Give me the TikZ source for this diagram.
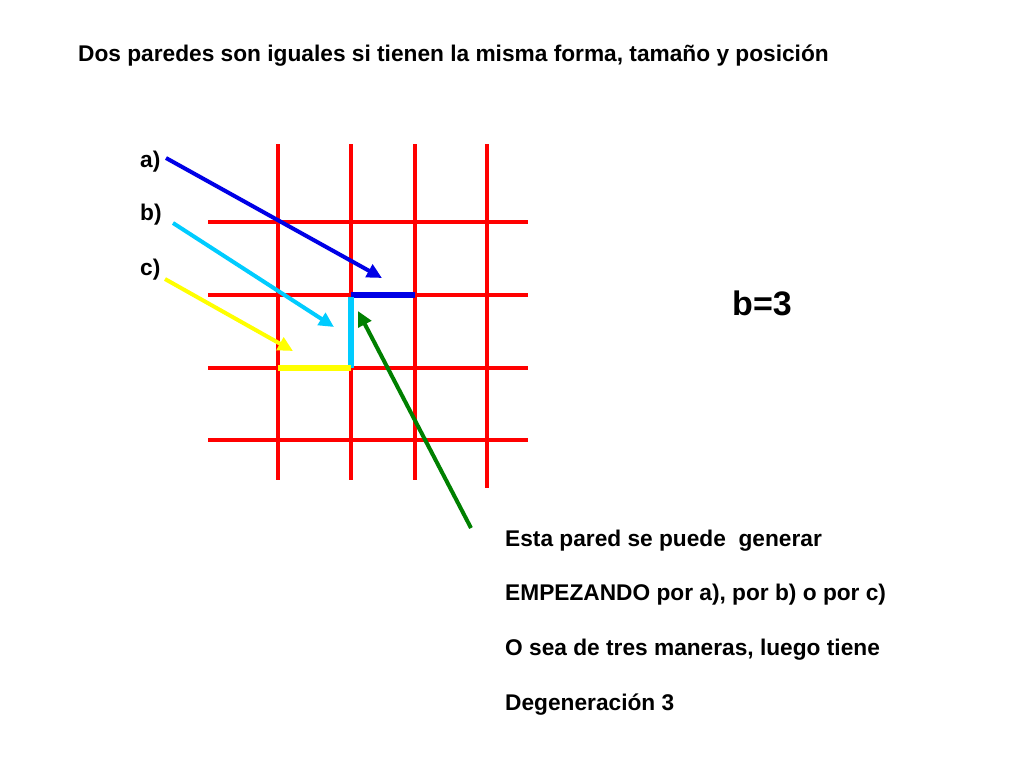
\documentclass[tikz,border=0pt]{standalone}
\usepackage{fontspec}
\setmainfont{Liberation Sans}
\usetikzlibrary{arrows.meta}
\definecolor{gridred}{RGB}{255,0,0}
\definecolor{wallblue}{RGB}{0,0,230}
\definecolor{wallcyan}{RGB}{0,204,255}
\definecolor{wallyellow}{RGB}{255,255,0}
\definecolor{arrgreen}{RGB}{0,128,0}
\begin{document}
\begin{tikzpicture}[x=1pt,y=-1pt,
  grid/.style={draw=gridred,line width=4pt},
  wall/.style={line width=5.5pt},
  pointer/.style={line width=4pt,-{Triangle[length=15pt,width=14pt]}},
  txt/.style={inner sep=0pt,anchor=base west,font=\bfseries\fontsize{22.7}{27}\selectfont}]
\useasboundingbox[fill=white] (0,0) rectangle (1024,768);
% title
\node[txt] (title) at (78,61) {Dos paredes son iguales si tienen la misma forma, tamaño y posición};
% grid
\foreach \x/\b in {278/480,351/480,415/480,487/488} \draw[grid] (\x,144) -- (\x,\b);
\foreach \y in {222,295,368,440} \draw[grid] (208,\y) -- (528,\y);
% walls
\coordinate (p1) at (351,295);
\coordinate (p2) at (415,295);
\coordinate (p3) at (351,368);
\coordinate (p4) at (278,368);
\draw[wall,draw=wallblue] (p1) -- (p2);
\draw[wall,draw=wallcyan] (351,297) -- (p3);
\draw[wall,draw=wallyellow] (p3) -- (p4);
% labels
\node[txt] (a) at (140,167) {a)};
\node[txt] (b) at (140,220) {b)};
\node[txt] (c) at (140,275) {c)};
% arrows
\coordinate (ta) at (382,278);
\coordinate (tb) at (334,327);
\coordinate (tc) at (293,351);
\coordinate (tg) at (358,311);
\coordinate (sa) at (166,158);
\coordinate (sb) at (173,223);
\coordinate (sc) at (165,279);
\coordinate (sg) at (471,528);
\draw[pointer,draw=wallblue,fill=wallblue] (sa) -- (ta);
\draw[pointer,draw=wallcyan,fill=wallcyan] (sb) -- (tb);
\draw[pointer,draw=wallyellow,fill=wallyellow] (sc) -- (tc);
\draw[pointer,draw=arrgreen,fill=arrgreen] (sg) -- (tg);
% b=3
\node[inner sep=0pt,anchor=base,font=\bfseries\fontsize{34}{40}\selectfont] (beq) at (762,315) {b=3};
% explanation
\node[txt] (l1) at (505,546) {Esta pared se puede\ \ generar};
\node[txt] (l2) at (505,600) {EMPEZANDO por a), por b) o por c)};
\node[txt] (l3) at (505,655) {O sea de tres maneras, luego tiene};
\node[txt] (l4) at (505,710) {Degeneración 3};
\end{tikzpicture}
\end{document}
